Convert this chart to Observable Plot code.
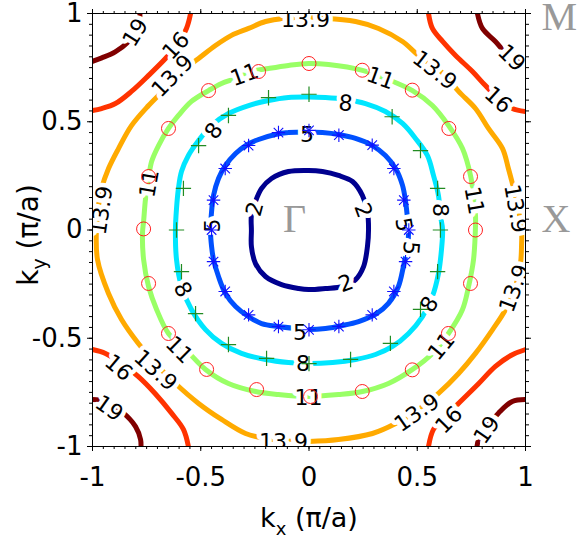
<!DOCTYPE html>
<html><head><meta charset="utf-8">
<script src="https://cdn.jsdelivr.net/npm/d3@7"></script>
<script src="https://cdn.jsdelivr.net/npm/@observablehq/plot@0.6"></script>
<style>body{margin:0;background:#fff}</style>
</head><body><div id="chart"></div>
<script>
// ---- data (kx, ky in units of pi/a) ----
const levels = [2, 5, 8, 11, 13.9, 16, 19];
const levelColors = ["#00008f", "#0050ff", "#00e6ff", "#99ff66", "#ffaa00", "#ff3300", "#800000"];
const majorTicks = [-1, -0.5, 0, 0.5, 1];

const contour2 = [[-0.002,0.275],[-0.095,0.270],[-0.173,0.238],[-0.219,0.192],[-0.247,0.132],[-0.266,0.067],[-0.266,-0.002],[-0.266,-0.076],[-0.247,-0.155],[-0.201,-0.215],[-0.127,-0.252],[-0.048,-0.270],[-0.002,-0.275],[0.076,-0.270],[0.155,-0.261],[0.215,-0.229],[0.252,-0.169],[0.270,-0.076],[0.275,0.002],[0.270,0.085],[0.247,0.159],[0.201,0.224],[0.136,0.252],[0.062,0.270]];
const contour5 = [[-0.002,0.453],[-0.095,0.450],[-0.155,0.441],[-0.233,0.418],[-0.293,0.390],[-0.339,0.353],[-0.386,0.298],[-0.418,0.238],[-0.441,0.159],[-0.450,0.085],[-0.455,-0.002],[-0.450,-0.076],[-0.441,-0.136],[-0.418,-0.215],[-0.386,-0.293],[-0.339,-0.353],[-0.279,-0.400],[-0.219,-0.432],[-0.141,-0.446],[-0.062,-0.455],[-0.002,-0.460],[0.076,-0.455],[0.155,-0.441],[0.229,-0.423],[0.307,-0.390],[0.367,-0.339],[0.413,-0.261],[0.436,-0.169],[0.455,-0.076],[0.460,0.002],[0.455,0.053],[0.446,0.132],[0.432,0.206],[0.400,0.284],[0.353,0.344],[0.293,0.390],[0.215,0.423],[0.136,0.441],[0.062,0.450]];
const contour8 = [[-0.002,0.614],[-0.095,0.612],[-0.187,0.598],[-0.279,0.575],[-0.372,0.538],[-0.450,0.483],[-0.510,0.413],[-0.557,0.344],[-0.589,0.270],[-0.603,0.192],[-0.612,0.099],[-0.617,-0.002],[-0.612,-0.136],[-0.589,-0.261],[-0.543,-0.367],[-0.478,-0.460],[-0.404,-0.524],[-0.312,-0.570],[-0.201,-0.598],[-0.095,-0.612],[-0.002,-0.617],[0.109,-0.612],[0.215,-0.598],[0.307,-0.575],[0.386,-0.538],[0.460,-0.478],[0.524,-0.400],[0.570,-0.307],[0.598,-0.201],[0.612,-0.090],[0.617,0.002],[0.607,0.067],[0.598,0.159],[0.575,0.252],[0.547,0.344],[0.492,0.423],[0.432,0.492],[0.353,0.547],[0.261,0.584],[0.169,0.603],[0.076,0.612]];
const contour11 = [[-0.002,0.769],[-0.095,0.760],[-0.187,0.746],[-0.266,0.732],[-0.339,0.700],[-0.404,0.677],[-0.464,0.644],[-0.543,0.594],[-0.603,0.529],[-0.649,0.469],[-0.695,0.390],[-0.727,0.316],[-0.741,0.238],[-0.755,0.145],[-0.764,0.039],[-0.769,-0.012],[-0.764,-0.136],[-0.741,-0.261],[-0.704,-0.367],[-0.649,-0.478],[-0.570,-0.552],[-0.478,-0.644],[-0.372,-0.709],[-0.247,-0.746],[-0.141,-0.760],[-0.016,-0.769],[0.136,-0.760],[0.247,-0.746],[0.367,-0.709],[0.478,-0.644],[0.570,-0.570],[0.644,-0.478],[0.709,-0.367],[0.737,-0.261],[0.760,-0.136],[0.769,0.016],[0.769,0.067],[0.760,0.159],[0.746,0.252],[0.709,0.376],[0.644,0.483],[0.570,0.575],[0.478,0.644],[0.353,0.700],[0.247,0.737],[0.090,0.764]];
const contour139 = [[-0.118,0.977],[-0.201,0.963],[-0.279,0.931],[-0.358,0.899],[-0.432,0.852],[-0.510,0.792],[-0.589,0.732],[-0.663,0.654],[-0.741,0.575],[-0.820,0.482],[-0.880,0.376],[-0.926,0.284],[-0.958,0.192],[-0.972,0.113],[-0.982,0.002],[-0.977,-0.136],[-0.926,-0.293],[-0.866,-0.413],[-0.788,-0.524],[-0.709,-0.617],[-0.617,-0.709],[-0.510,-0.801],[-0.404,-0.875],[-0.293,-0.940],[-0.201,-0.963],[-0.062,-0.977],[0.000,-0.977],[0.136,-0.968],[0.293,-0.940],[0.400,-0.894],[0.506,-0.829],[0.598,-0.755],[0.691,-0.663],[0.769,-0.570],[0.848,-0.460],[0.908,-0.367],[0.954,-0.261],[0.977,-0.155],[0.982,-0.062],[0.982,0.002],[0.968,0.085],[0.945,0.192],[0.921,0.284],[0.894,0.376],[0.829,0.469],[0.769,0.561],[0.691,0.640],[0.630,0.714],[0.506,0.806],[0.432,0.871],[0.321,0.931],[0.215,0.963],[0.076,0.977]];
const contour16 = [
  [[-0.547,1.0],[-0.566,0.931],[-0.612,0.852],[-0.663,0.792],[-0.741,0.714],[-0.820,0.640],[-0.894,0.584],[-0.958,0.561],[-1.0,0.552]],
  [[0.552,1.0],[0.570,0.931],[0.617,0.871],[0.677,0.806],[0.755,0.732],[0.815,0.667],[0.875,0.607],[0.939,0.561],[1.0,0.547]],
  [[-1.0,-0.552],[-0.940,-0.570],[-0.866,-0.616],[-0.788,-0.677],[-0.711,-0.755],[-0.634,-0.847],[-0.580,-0.921],[-0.557,-1.0]],
  [[1.0,-0.552],[0.939,-0.576],[0.861,-0.630],[0.784,-0.709],[0.709,-0.783],[0.630,-0.861],[0.575,-0.921],[0.552,-1.0]]
];
const contour19 = [
  [[-0.781,1.0],[-0.789,0.931],[-0.834,0.869],[-0.895,0.823],[-0.957,0.795],[-1.0,0.779]],
  [[0.778,1.0],[0.801,0.931],[0.861,0.871],[0.921,0.806],[1.0,0.760]],
  [[-1.0,-0.783],[-0.940,-0.792],[-0.866,-0.838],[-0.801,-0.908],[-0.778,-0.968],[-0.776,-1.0]],
  [[1.0,-0.783],[0.939,-0.792],[0.875,-0.846],[0.824,-0.906],[0.784,-0.966],[0.776,-1.0]]
];

// markers (computed points compared with the contours)
const circleMarkers = [[0,0.769],[-0.233,0.732],[0.246,0.738],[-0.464,0.644],[0.477,0.646],[-0.649,0.469],[0.646,0.469],[-0.741,0.247],[0.746,0.247],[-0.764,0.005],[0.769,0],[-0.741,-0.247],[0.746,-0.247],[-0.649,-0.478],[0.644,-0.478],[-0.473,-0.644],[0.477,-0.646],[-0.242,-0.737],[0.246,-0.746],[0.007,-0.769]];
const plusMarkers = [[0,0.627],[-0.187,0.611],[-0.372,0.529],[0.384,0.523],[-0.510,0.390],[0.515,0.367],[-0.580,0.192],[0.594,0.192],[-0.612,0],[0.607,0],[-0.589,-0.192],[0.594,-0.192],[-0.524,-0.386],[0.515,-0.367],[-0.372,-0.529],[0.376,-0.524],[-0.196,-0.593],[0.192,-0.598],[0,-0.617]];
const starMarkers = [[0,0.460],[-0.141,0.450],[0.138,0.438],[-0.279,0.390],[0.292,0.392],[-0.387,0.284],[0.392,0.284],[-0.441,0.138],[0.438,0.138],[-0.450,0],[0.461,0],[-0.441,-0.146],[0.446,-0.146],[-0.387,-0.284],[0.392,-0.284],[-0.279,-0.392],[0.292,-0.392],[-0.141,-0.446],[0.138,-0.446],[0,-0.461]];

// contour labels: [text, kx, ky, angle]
const contourLabels = [
  ["19",-0.801,0.912,-58],["16",-0.614,0.850,-47],["13.9",-0.630,0.711,-46],["13.9",-0.016,0.970,0],
  ["11",-0.298,0.716,-20],["11",0.330,0.700,20],["13.9",0.580,0.737,38],["16",0.873,0.600,42],["19",0.935,0.794,45],
  ["8",-0.439,0.457,-55],["8",0.169,0.584,5],["5",-0.009,0.437,0],
  ["2",-0.249,0.097,-75],["11",-0.737,0.215,-80],["13.9",-0.956,0.090,-82],["5",-0.443,0.021,-90],
  ["2",0.249,0.090,70],["5",0.436,0.025,80],["5",0.469,-0.083,95],["8",0.603,0.092,90],["11",0.762,0.136,80],["13.9",0.954,0.099,80],
  ["13.9",0.949,-0.270,-70],["2",0.171,-0.247,-20],["5",-0.042,-0.476,0],["8",-0.028,-0.621,0],["11",-0.002,-0.774,0],["13.9",-0.118,-0.977,0],
  ["8",-0.584,-0.275,62],["11",-0.600,-0.554,45],["13.9",-0.709,-0.649,42],["16",-0.880,-0.637,40],["19",-0.924,-0.824,35],
  ["8",0.557,-0.344,-60],["11",0.612,-0.538,-50],["13.9",0.499,-0.845,-35],["16",0.647,-0.878,-45],["19",0.822,-0.924,-55]
];
// high-symmetry points: [text, kx, ky]
const centerPoint = [["Γ",-0.067,-0.007]];
const edgePoints = [["X",1,-0.007],["M",1,0.926]];

// ---- build tables ----
const closedRows = [];
[[2,contour2],[5,contour5],[8,contour8],[11,contour11],[13.9,contour139]].forEach(([lev, pts]) => {
  pts.forEach(([kx, ky]) => closedRows.push({level: lev, seg: "c" + lev, kx, ky}));
});
const openRows = [];
[[16,contour16],[19,contour19]].forEach(([lev, segs]) => {
  segs.forEach((pts, i) => pts.forEach(([kx, ky]) => openRows.push({level: lev, seg: lev + "-" + i, kx, ky})));
});
const minorTicks = d3.range(-20, 21).map(i => i / 20);

const labelOpts = {x: d => d[1], y: d => d[2], text: d => d[0], rotate: d => d[3],
  fontSize: 22, fontFamily: "DejaVu Sans", lineAnchor: "middle", clip: true};
const noText = () => "";

const svg = Plot.plot({
  width: 577, height: 540,
  marginLeft: 92, marginRight: 52, marginTop: 13, marginBottom: 94,
  style: {fontFamily: "DejaVu Sans", background: "white", overflow: "visible", color: "black"},
  x: {domain: [-1, 1], label: null},
  y: {domain: [-1, 1], label: null},
  color: {type: "ordinal", domain: levels, range: levelColors},
  marks: [
    Plot.line(closedRows, {x: "kx", y: "ky", z: "seg", stroke: "level", strokeWidth: 5, curve: "catmull-rom-closed", clip: true}),
    Plot.line(openRows, {x: "kx", y: "ky", z: "seg", stroke: "level", strokeWidth: 5, curve: "catmull-rom", clip: true}),
    Plot.text(contourLabels, {...labelOpts, fill: "white", stroke: "white", strokeWidth: 9, strokeLinejoin: "round"}),
    Plot.text(contourLabels, {...labelOpts, fill: "black"}),
    Plot.dot(circleMarkers, {x: d => d[0], y: d => d[1], r: 7, stroke: "#ff2020", strokeWidth: 1, fill: "none"}),
    Plot.dot(plusMarkers, {x: d => d[0], y: d => d[1], symbol: "plus", r: 5, stroke: "#228b22", strokeWidth: 1.2}),
    Plot.dot(starMarkers, {x: d => d[0], y: d => d[1], symbol: "plus", r: 4.4, stroke: "#1010ff", strokeWidth: 1.1}),
    Plot.dot(starMarkers, {x: d => d[0], y: d => d[1], symbol: "times", r: 4.4, stroke: "#1010ff", strokeWidth: 1.1}),
    Plot.text(centerPoint, {x: d => d[1], y: d => d[2], text: d => d[0], fontSize: 40, fontFamily: "Liberation Serif",
      fill: "#999999", lineAnchor: "bottom", textAnchor: "middle"}),
    Plot.text(edgePoints, {x: d => d[1], y: d => d[2], text: d => d[0], fontSize: 40, fontFamily: "Liberation Serif",
      fill: "#999999", lineAnchor: "bottom", textAnchor: "start", dx: 16}),
    Plot.axisX({anchor: "bottom", ticks: majorTicks, tickSize: 5, tickPadding: 16, tickFormat: d => String(d), fontSize: 26, label: null}),
    Plot.axisX({anchor: "top", ticks: majorTicks, tickSize: 5, tickFormat: noText, label: null}),
    Plot.axisX({anchor: "bottom", ticks: minorTicks, tickSize: 3, tickFormat: noText, label: null}),
    Plot.axisX({anchor: "top", ticks: minorTicks, tickSize: 3, tickFormat: noText, label: null}),
    Plot.axisY({anchor: "left", ticks: majorTicks, tickSize: 5, tickPadding: 5, tickFormat: d => String(d), fontSize: 26, label: null}),
    Plot.axisY({anchor: "right", ticks: majorTicks, tickSize: 5, tickFormat: noText, label: null}),
    Plot.axisY({anchor: "left", ticks: minorTicks, tickSize: 3, tickFormat: noText, label: null}),
    Plot.axisY({anchor: "right", ticks: minorTicks, tickSize: 3, tickFormat: noText, label: null}),
    Plot.frame({stroke: "black", strokeWidth: 1})
  ]
});

// axis titles with subscripts
const sel = d3.select(svg);
const xt = sel.append("text").attr("x", 309).attr("y", 527).attr("text-anchor", "middle")
  .attr("font-family", "DejaVu Sans").attr("font-size", 27).attr("fill", "black");
xt.append("tspan").text("k");
xt.append("tspan").attr("font-size", 18).attr("dy", 8).text("x");
xt.append("tspan").attr("dy", -8).text(" (π/a)");
const yt = sel.append("text").attr("transform", "translate(38,235) rotate(-90)").attr("text-anchor", "middle")
  .attr("font-family", "DejaVu Sans").attr("font-size", 28).attr("fill", "black");
yt.append("tspan").text("k");
yt.append("tspan").attr("font-size", 19).attr("dy", 8).text("y");
yt.append("tspan").attr("dy", -8).text(" (π/a)");

document.getElementById("chart").appendChild(svg);
</script>
</body></html>
